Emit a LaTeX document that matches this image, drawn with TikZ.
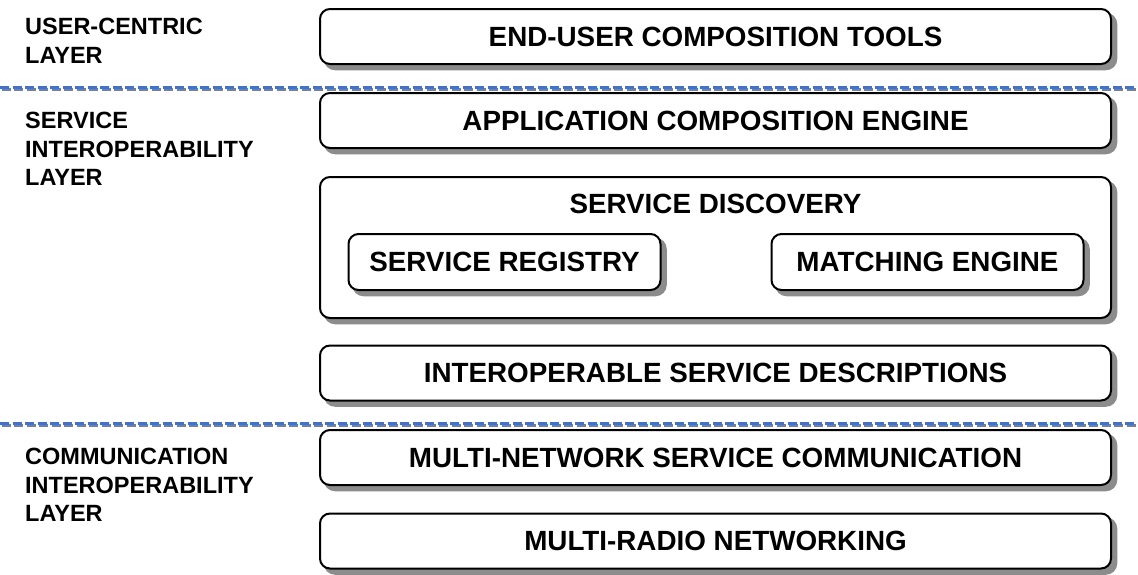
\documentclass[tikz,border=0pt]{standalone}
\usepackage{fontspec}
\setmainfont{Liberation Sans}
\usetikzlibrary{positioning}
\definecolor{sepblue}{RGB}{68,114,196}
\newcommand{\boxfont}{\fontsize{27.8}{30}\selectfont\bfseries}
\newcommand{\layerfont}{\fontsize{23.5}{28.5}\selectfont\bfseries}

\begin{document}
\begin{tikzpicture}[x=1pt, y=-1pt,
  box/.style = {draw, line width=2pt, rounded corners=10pt, fill=white, minimum width=791pt, minimum height=55pt, font=\boxfont, preaction={draw=gray!90, fill=gray!90, line width=2.5pt, transform canvas={shift={(5pt,-5pt)}}}},
  inner/.style = {box, minimum width=312pt, minimum height=56pt},
  layer/.style = {anchor=north west, inner sep=0pt, align=left, font=\layerfont},
  sep/.style = {line width=3pt, dash pattern=on 9pt off 3.5pt}]
\useasboundingbox (0,0) rectangle (1138,574);

% layer names
\node[layer] (uc) at (25,18) {USER-CENTRIC\\LAYER};
\node[layer] (si) at (25,112) {SERVICE\\INTEROPERABILITY\\LAYER};
\node[layer] (ci) at (25,448) {COMMUNICATION\\INTEROPERABILITY\\LAYER};

% separators
\coordinate (s1a) at (0,87);   \coordinate (s1b) at (1138,87);
\coordinate (s2a) at (0,423);  \coordinate (s2b) at (1138,423);
\draw[sep, gray] ([shift={(1.5,2)}]s1a) -- ([shift={(1.5,2)}]s1b);
\draw[sep, sepblue] (s1a) -- (s1b);
\draw[sep, gray] ([shift={(1.5,2)}]s2a) -- ([shift={(1.5,2)}]s2b);
\draw[sep, sepblue] (s2a) -- (s2b);

% layer boxes
\node[box] (tools) at (715.5,36.5) {END-USER COMPOSITION TOOLS};
\node[box] (engine) at (715.5,120.5) {APPLICATION COMPOSITION ENGINE};
\node[box, minimum height=141pt] (disc) at (715.5,247.5) {};
\node[font=\boxfont, below=15pt of disc.north] (disct) {SERVICE DISCOVERY};
\node[inner] (reg) at (504.5,262) {SERVICE REGISTRY};
\node[inner] (match) at (927.5,262) {MATCHING ENGINE};
\node[box] (descr) at (715.5,373) {INTEROPERABLE SERVICE DESCRIPTIONS};
\node[box] (comm) at (715.5,457.5) {MULTI-NETWORK SERVICE COMMUNICATION};
\node[box] (radio) at (715.5,541) {MULTI-RADIO NETWORKING};
\end{tikzpicture}
\end{document}
